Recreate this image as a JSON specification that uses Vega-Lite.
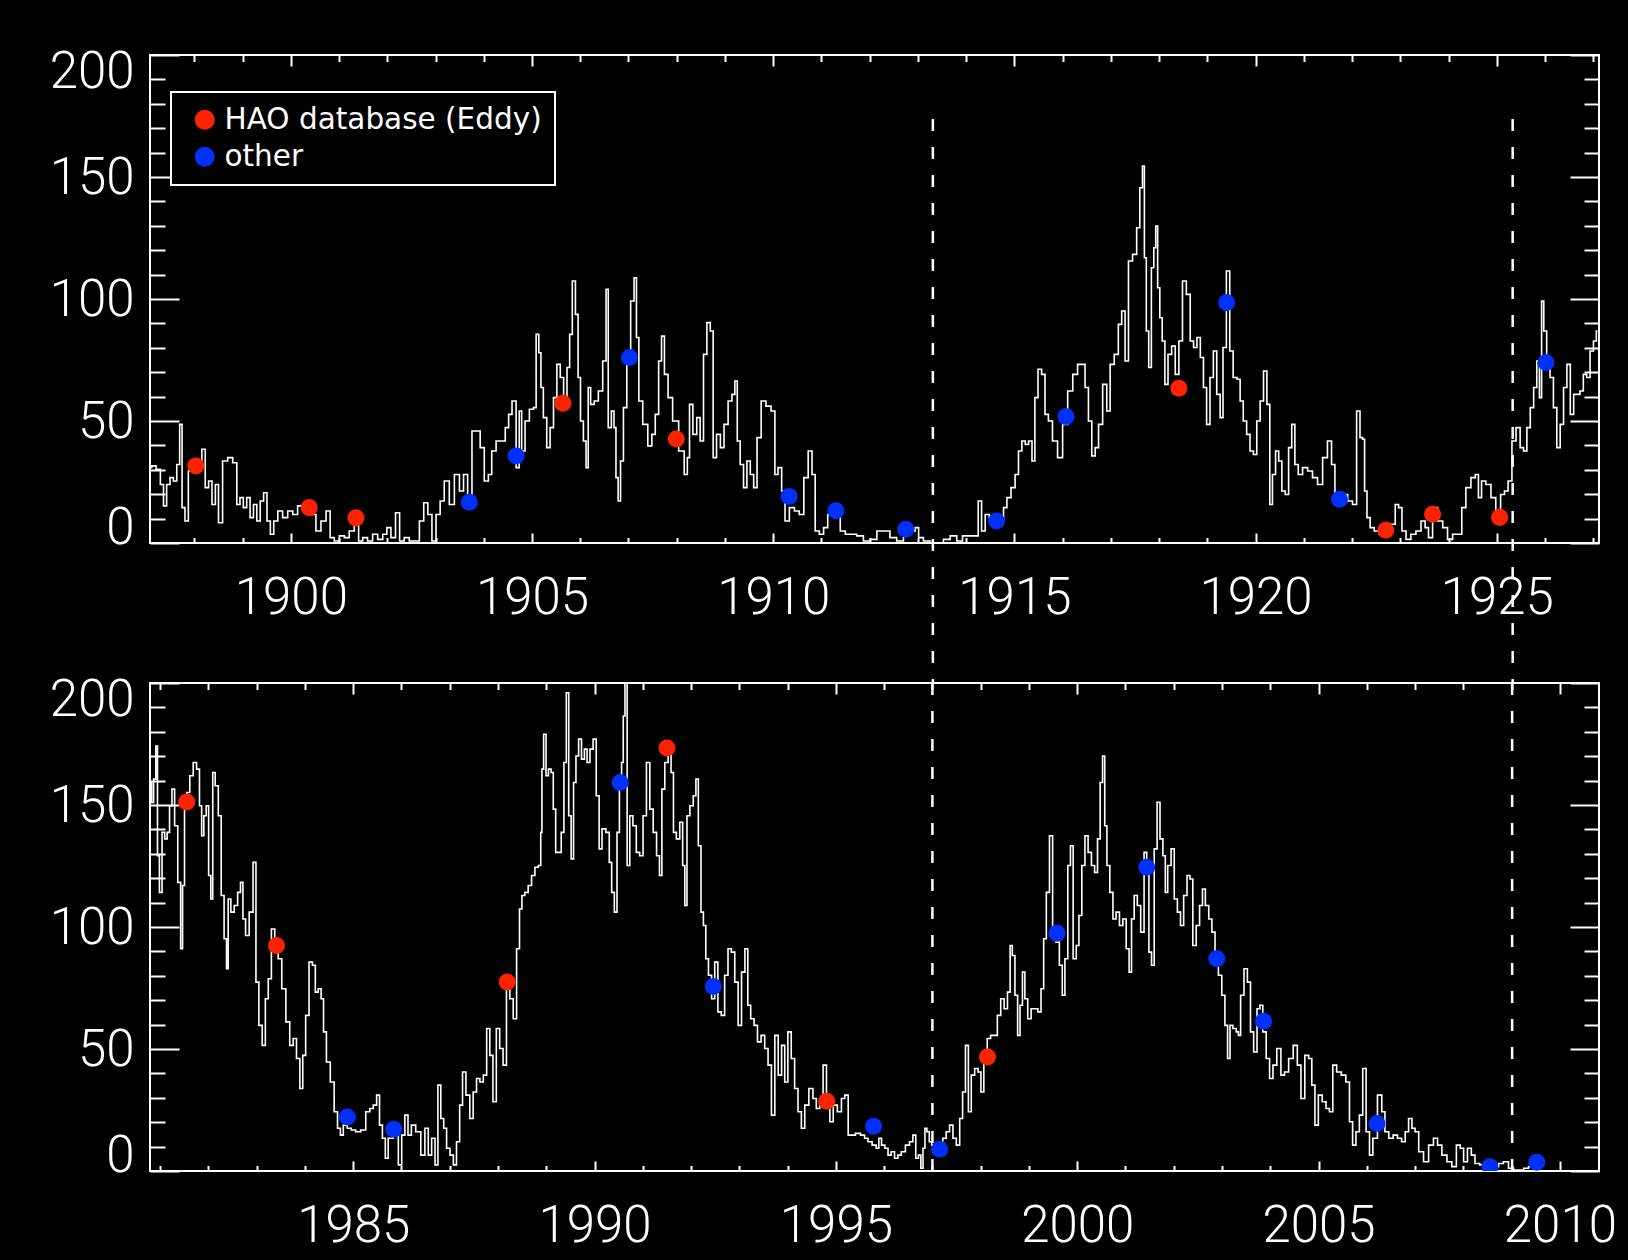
{
  "$schema": "https://vega.github.io/schema/vega-lite/v6.json",
  "background": "black",
  "padding": {"left": 48, "top": 45, "right": 34, "bottom": 12},
  "spacing": 140,
  "bounds": "flush",
  "datasets": {
    "ssnEarly": [
      {"year":1897.08,"ssn":31},{"year":1897.15,"ssn":31.6},{"year":1897.26,"ssn":30.2},{"year":1897.33,"ssn":24},{"year":1897.39,"ssn":15.2},{"year":1897.46,"ssn":24},{"year":1897.53,"ssn":26.8},{"year":1897.6,"ssn":25.4},{"year":1897.67,"ssn":32.2},{"year":1897.72,"ssn":48.6},{"year":1897.77,"ssn":14.5},{"year":1897.84,"ssn":9},{"year":1897.91,"ssn":29.5},{"year":1898.02,"ssn":31.6},{"year":1898.12,"ssn":33.6},{"year":1898.19,"ssn":38.4},{"year":1898.26,"ssn":22.7},{"year":1898.33,"ssn":25.4},{"year":1898.4,"ssn":15.8},{"year":1898.47,"ssn":24},{"year":1898.53,"ssn":8.3},{"year":1898.64,"ssn":33.6},{"year":1898.74,"ssn":35},{"year":1898.85,"ssn":32.9},{"year":1898.91,"ssn":15.8},{"year":1898.98,"ssn":18.6},{"year":1899.05,"ssn":14.5},{"year":1899.12,"ssn":18.6},{"year":1899.19,"ssn":10.4},{"year":1899.26,"ssn":15.8},{"year":1899.33,"ssn":9},{"year":1899.4,"ssn":17.2},{"year":1899.47,"ssn":20.6},{"year":1899.54,"ssn":9},{"year":1899.61,"ssn":3.6},{"year":1899.68,"ssn":9},{"year":1899.78,"ssn":13.1},{"year":1899.88,"ssn":10.4},{"year":1899.99,"ssn":13.1},{"year":1900.09,"ssn":11.7},{"year":1900.19,"ssn":15.2},{"year":1900.3,"ssn":15.8},{"year":1900.38,"ssn":14.5},{"year":1900.47,"ssn":11.7},{"year":1900.57,"ssn":4.9},{"year":1900.68,"ssn":9},{"year":1900.78,"ssn":13.1},{"year":1900.85,"ssn":2.2},{"year":1900.95,"ssn":0.8},{"year":1901.06,"ssn":2.9},{"year":1901.16,"ssn":2.2},{"year":1901.26,"ssn":4.9},{"year":1901.37,"ssn":7.7},{"year":1901.44,"ssn":0.8},{"year":1901.54,"ssn":2.2},{"year":1901.64,"ssn":0.8},{"year":1901.75,"ssn":3.6},{"year":1901.85,"ssn":1.5},{"year":1901.96,"ssn":3.6},{"year":1902.02,"ssn":6.3},{"year":1902.13,"ssn":2.2},{"year":1902.21,"ssn":12.4},{"year":1902.3,"ssn":0.8},{"year":1902.4,"ssn":2.2},{"year":1902.51,"ssn":0.8},{"year":1902.61,"ssn":0.8},{"year":1902.72,"ssn":9},{"year":1902.79,"ssn":16.5},{"year":1902.89,"ssn":11.7},{"year":1902.96,"ssn":0.8},{"year":1903.06,"ssn":11.7},{"year":1903.13,"ssn":17.2},{"year":1903.23,"ssn":25.4},{"year":1903.34,"ssn":15.8},{"year":1903.44,"ssn":28.1},{"year":1903.55,"ssn":21.3},{"year":1903.61,"ssn":28.1},{"year":1903.72,"ssn":14.5},{"year":1903.79,"ssn":45.9},{"year":1903.89,"ssn":45.9},{"year":1903.96,"ssn":39.1},{"year":1904.06,"ssn":25.4},{"year":1904.13,"ssn":28.1},{"year":1904.2,"ssn":37.7},{"year":1904.31,"ssn":41.8},
      {"year":1904.41,"ssn":41.8},{"year":1904.48,"ssn":47.3},{"year":1904.55,"ssn":52.7},{"year":1904.62,"ssn":58.2},{"year":1904.72,"ssn":30.9},{"year":1904.75,"ssn":54.1},{"year":1904.82,"ssn":37.7},{"year":1904.89,"ssn":50},{"year":1905,"ssn":54.8},{"year":1905.06,"ssn":55.5},{"year":1905.11,"ssn":85.5},{"year":1905.17,"ssn":78},{"year":1905.2,"ssn":63.7},{"year":1905.27,"ssn":51.4},{"year":1905.34,"ssn":39.1},{"year":1905.41,"ssn":47.3},{"year":1905.48,"ssn":59.6},{"year":1905.55,"ssn":73.2},{"year":1905.62,"ssn":67.8},{"year":1905.69,"ssn":56.8},{"year":1905.76,"ssn":71.9},{"year":1905.8,"ssn":85.5},{"year":1905.87,"ssn":107.4},{"year":1905.93,"ssn":93.7},{"year":1905.98,"ssn":67.8},{"year":1906.03,"ssn":50},{"year":1906.1,"ssn":41.8},{"year":1906.14,"ssn":30.9},{"year":1906.19,"ssn":63.7},{"year":1906.24,"ssn":56.8},{"year":1906.34,"ssn":58.2},{"year":1906.41,"ssn":62.3},{"year":1906.52,"ssn":74.6},{"year":1906.55,"ssn":104},{"year":1906.61,"ssn":47.3},{"year":1906.68,"ssn":54.1},{"year":1906.72,"ssn":47.3},{"year":1906.76,"ssn":26.8},{"year":1906.81,"ssn":17.2},{"year":1906.86,"ssn":33.6},{"year":1906.93,"ssn":55.5},{"year":1907,"ssn":74.6},{"year":1907.09,"ssn":99.2},{"year":1907.14,"ssn":108.7},{"year":1907.19,"ssn":84.2},{"year":1907.24,"ssn":58.2},{"year":1907.35,"ssn":48.6},{"year":1907.45,"ssn":39.8},{"year":1907.52,"ssn":44.5},{"year":1907.59,"ssn":52.7},{"year":1907.66,"ssn":74.6},{"year":1907.71,"ssn":84.8},{"year":1907.78,"ssn":69.1},{"year":1907.86,"ssn":59.6},{"year":1907.97,"ssn":50},{"year":1908.11,"ssn":37.7},{"year":1908.2,"ssn":28.1},{"year":1908.24,"ssn":35},{"year":1908.29,"ssn":56.8},{"year":1908.38,"ssn":44.5},{"year":1908.45,"ssn":51.4},{"year":1908.52,"ssn":41.8},{"year":1908.59,"ssn":77.3},{"year":1908.66,"ssn":90.3},{"year":1908.73,"ssn":86.9},{"year":1908.78,"ssn":35},{"year":1908.87,"ssn":44.5},{"year":1908.94,"ssn":39.1},{"year":1909.02,"ssn":48.6},{"year":1909.11,"ssn":58.2},{"year":1909.18,"ssn":60.9},{"year":1909.23,"ssn":66.4},{"year":1909.28,"ssn":41.8},{"year":1909.35,"ssn":32.2},{"year":1909.42,"ssn":22.7},{"year":1909.49,"ssn":33.6},{"year":1909.56,"ssn":28.1},{"year":1909.63,"ssn":22.7},{"year":1909.7,"ssn":43.2},{"year":1909.8,"ssn":58.2},{"year":1909.9,"ssn":56.1},{"year":1910.01,"ssn":54.1},{"year":1910.06,"ssn":28.1},{"year":1910.14,"ssn":30.9},{"year":1910.21,"ssn":21.3},{"year":1910.28,"ssn":9},{"year":1910.39,"ssn":14.5},{"year":1910.49,"ssn":13.1},{"year":1910.59,"ssn":11.7},{"year":1910.68,"ssn":26.8},{"year":1910.77,"ssn":37.7},{"year":1910.84,"ssn":28.1},{"year":1910.9,"ssn":4.9},{"year":1911.01,"ssn":3.6},{"year":1911.08,"ssn":6.3},{"year":1911.18,"ssn":11.7},{"year":1911.32,"ssn":11.7},{"year":1911.46,"ssn":4.9},{"year":1911.53,"ssn":3.6},{"year":1911.66,"ssn":3.6},{"year":1911.8,"ssn":2.9},
      {"year":1911.94,"ssn":0.8},{"year":1912.08,"ssn":1.5},{"year":1912.22,"ssn":4.9},{"year":1912.35,"ssn":4.9},{"year":1912.49,"ssn":2.2},{"year":1912.63,"ssn":0.8},{"year":1912.77,"ssn":4.9},{"year":1912.91,"ssn":4.9},{"year":1912.98,"ssn":6.3},{"year":1913.05,"ssn":2.2},{"year":1913.18,"ssn":0.8},{"year":1913.32,"ssn":0.1},{"year":1913.46,"ssn":0.1},{"year":1913.6,"ssn":1.5},{"year":1913.74,"ssn":2.9},{"year":1913.87,"ssn":0.8},{"year":1913.98,"ssn":2.9},{"year":1914.08,"ssn":2.9},{"year":1914.22,"ssn":2.9},{"year":1914.28,"ssn":17.2},{"year":1914.36,"ssn":4.9},{"year":1914.43,"ssn":11.7},{"year":1914.53,"ssn":10.4},{"year":1914.64,"ssn":11.7},{"year":1914.74,"ssn":9},{"year":1914.81,"ssn":14.5},{"year":1914.88,"ssn":18.6},{"year":1914.98,"ssn":22.7},{"year":1915.05,"ssn":28.1},{"year":1915.12,"ssn":37.7},{"year":1915.19,"ssn":41.8},{"year":1915.26,"ssn":40.4},{"year":1915.33,"ssn":41.8},{"year":1915.4,"ssn":33.6},{"year":1915.45,"ssn":59.6},{"year":1915.53,"ssn":71.2},{"year":1915.6,"ssn":69.1},{"year":1915.67,"ssn":52.7},{"year":1915.74,"ssn":50},{"year":1915.84,"ssn":41.8},{"year":1915.95,"ssn":35},{"year":1916.05,"ssn":48.6},{"year":1916.16,"ssn":62.3},{"year":1916.26,"ssn":69.1},{"year":1916.36,"ssn":73.2},{"year":1916.43,"ssn":73.2},{"year":1916.5,"ssn":63.7},{"year":1916.57,"ssn":50},{"year":1916.64,"ssn":35.7},{"year":1916.71,"ssn":39.1},{"year":1916.78,"ssn":48.6},{"year":1916.88,"ssn":65},{"year":1916.95,"ssn":54.1},{"year":1917.02,"ssn":73.2},{"year":1917.12,"ssn":77.3},{"year":1917.19,"ssn":89.6},{"year":1917.26,"ssn":95.1},{"year":1917.33,"ssn":74.6},{"year":1917.4,"ssn":115.6},{"year":1917.5,"ssn":118.3},{"year":1917.57,"ssn":129.2},{"year":1917.63,"ssn":145.6},{"year":1917.68,"ssn":154.5},{"year":1917.71,"ssn":116.9},{"year":1917.76,"ssn":86.9},{"year":1917.81,"ssn":71.9},{"year":1917.87,"ssn":112.8},{"year":1917.91,"ssn":121},{"year":1917.95,"ssn":129.9},{"year":1917.99,"ssn":104.6},{"year":1918.04,"ssn":92.3},{"year":1918.09,"ssn":82.8},{"year":1918.15,"ssn":65},{"year":1918.22,"ssn":77.3},{"year":1918.3,"ssn":80.7},{"year":1918.37,"ssn":69.1},{"year":1918.45,"ssn":82.8},{"year":1918.52,"ssn":107.4},{"year":1918.61,"ssn":101.9},{"year":1918.68,"ssn":82.8},{"year":1918.75,"ssn":80.1},{"year":1918.82,"ssn":84.2},{"year":1918.89,"ssn":76},{"year":1918.95,"ssn":63.7},{"year":1919.02,"ssn":48.6},{"year":1919.09,"ssn":67.8},{"year":1919.16,"ssn":78.7},{"year":1919.23,"ssn":60.9},{"year":1919.3,"ssn":51.4},{"year":1919.35,"ssn":80.1},{"year":1919.44,"ssn":111.5},{"year":1919.49,"ssn":78.7},{"year":1919.58,"ssn":67.8},{"year":1919.65,"ssn":67.1},
      {"year":1919.71,"ssn":58.2},{"year":1919.78,"ssn":50},{"year":1919.85,"ssn":44.5},{"year":1919.92,"ssn":37.7},{"year":1919.99,"ssn":36.3},{"year":1920.06,"ssn":50},{"year":1920.13,"ssn":58.2},{"year":1920.2,"ssn":70.5},{"year":1920.27,"ssn":56.8},{"year":1920.32,"ssn":15.8},{"year":1920.38,"ssn":28.1},{"year":1920.45,"ssn":37.7},{"year":1920.51,"ssn":33.6},{"year":1920.58,"ssn":21.3},{"year":1920.65,"ssn":19.9},{"year":1920.72,"ssn":39.1},{"year":1920.78,"ssn":48.6},{"year":1920.85,"ssn":32.2},{"year":1920.92,"ssn":28.1},{"year":1921.03,"ssn":30.9},{"year":1921.13,"ssn":29.5},{"year":1921.23,"ssn":26.8},{"year":1921.34,"ssn":24},{"year":1921.44,"ssn":35},{"year":1921.54,"ssn":41.8},{"year":1921.61,"ssn":32.2},{"year":1921.68,"ssn":18.6},{"year":1921.75,"ssn":18.6},{"year":1921.86,"ssn":19.9},{"year":1921.96,"ssn":17.2},{"year":1922.06,"ssn":15.8},{"year":1922.13,"ssn":54.1},{"year":1922.2,"ssn":43.2},{"year":1922.24,"ssn":42.5},{"year":1922.28,"ssn":21.3},{"year":1922.34,"ssn":10.4},{"year":1922.41,"ssn":6.3},{"year":1922.51,"ssn":4.9},{"year":1922.62,"ssn":3.6},{"year":1922.72,"ssn":6.3},{"year":1922.86,"ssn":7.7},{"year":1922.93,"ssn":15.8},{"year":1923,"ssn":14.5},{"year":1923.07,"ssn":4.9},{"year":1923.17,"ssn":1.5},{"year":1923.27,"ssn":3.6},{"year":1923.38,"ssn":4.9},{"year":1923.48,"ssn":9},{"year":1923.55,"ssn":6.3},{"year":1923.62,"ssn":2.2},{"year":1923.72,"ssn":14.5},{"year":1923.83,"ssn":9},{"year":1923.93,"ssn":6.3},{"year":1924.03,"ssn":1.5},{"year":1924.14,"ssn":3.6},{"year":1924.24,"ssn":3.6},{"year":1924.31,"ssn":14.5},{"year":1924.41,"ssn":22.7},{"year":1924.52,"ssn":26.8},{"year":1924.59,"ssn":28.1},{"year":1924.65,"ssn":18.6},{"year":1924.72,"ssn":25.4},{"year":1924.83,"ssn":24},{"year":1924.93,"ssn":18.6},{"year":1925.03,"ssn":9},{"year":1925.13,"ssn":19.9},{"year":1925.19,"ssn":21.3},{"year":1925.28,"ssn":25.4},{"year":1925.35,"ssn":41.8},{"year":1925.45,"ssn":47.3},{"year":1925.52,"ssn":39.1},{"year":1925.59,"ssn":37.7},{"year":1925.66,"ssn":47.3},{"year":1925.73,"ssn":55.5},{"year":1925.8,"ssn":63.7},{"year":1925.86,"ssn":74.6},{"year":1925.91,"ssn":59.6},{"year":1925.95,"ssn":99.2},{"year":1926,"ssn":86.9},{"year":1926.07,"ssn":74.6},{"year":1926.14,"ssn":67.8},{"year":1926.21,"ssn":55.5},{"year":1926.28,"ssn":39.1},{"year":1926.35,"ssn":48.6},{"year":1926.42,"ssn":63.7},{"year":1926.49,"ssn":73.2},{"year":1926.56,"ssn":52.7},{"year":1926.63,"ssn":60.9},{"year":1926.69,"ssn":60.9},{"year":1926.76,"ssn":62.3},{"year":1926.83,"ssn":69.1},{"year":1926.9,"ssn":67.8},{"year":1926.97,"ssn":78.7},{"year":1927.04,"ssn":82.8},{"year":1927.09,"ssn":86.9}
    ],
    "ssnRecent": [
      {"year":1980.81,"ssn":159.2},{"year":1980.84,"ssn":151},{"year":1980.89,"ssn":160.6},{"year":1980.93,"ssn":174.2},{"year":1980.96,"ssn":129.2},{"year":1981.01,"ssn":114.2},{"year":1981.07,"ssn":138.8},{"year":1981.12,"ssn":136.1},{"year":1981.17,"ssn":138.8},{"year":1981.22,"ssn":149.7},{"year":1981.27,"ssn":156.5},{"year":1981.33,"ssn":141.5},{"year":1981.4,"ssn":118.3},{"year":1981.45,"ssn":91.1},{"year":1981.48,"ssn":117},{"year":1981.53,"ssn":149.7},{"year":1981.58,"ssn":155.1},{"year":1981.65,"ssn":162},{"year":1981.72,"ssn":167.4},{"year":1981.79,"ssn":164.7},{"year":1981.84,"ssn":149.7},{"year":1981.88,"ssn":137.4},{"year":1981.93,"ssn":145.6},{"year":1981.98,"ssn":149.7},{"year":1982.03,"ssn":121.1},{"year":1982.07,"ssn":111.5},{"year":1982.11,"ssn":163.3},{"year":1982.17,"ssn":157.9},{"year":1982.24,"ssn":145.6},{"year":1982.29,"ssn":112.9},{"year":1982.36,"ssn":95.2},{"year":1982.39,"ssn":82.9},{"year":1982.43,"ssn":111.5},{"year":1982.5,"ssn":106.1},{"year":1982.57,"ssn":108.8},{"year":1982.64,"ssn":114.2},{"year":1982.69,"ssn":118.3},{"year":1982.74,"ssn":103.3},{"year":1982.8,"ssn":96.5},{"year":1982.89,"ssn":106.1},{"year":1982.96,"ssn":126.5},{"year":1983.01,"ssn":77.4},{"year":1983.08,"ssn":59.7},{"year":1983.15,"ssn":51.5},{"year":1983.21,"ssn":70.6},{"year":1983.27,"ssn":78.8},{"year":1983.34,"ssn":99.2},{"year":1983.41,"ssn":92.4},{"year":1983.48,"ssn":87},{"year":1983.56,"ssn":74.7},{"year":1983.65,"ssn":61.1},{"year":1983.72,"ssn":51.5},{"year":1983.79,"ssn":54.3},{"year":1983.86,"ssn":46.1},{"year":1983.93,"ssn":33.8},{"year":1983.98,"ssn":47.4},{"year":1984.05,"ssn":63.8},{"year":1984.12,"ssn":85.6},{"year":1984.19,"ssn":84.3},{"year":1984.24,"ssn":73.3},{"year":1984.31,"ssn":74.7},{"year":1984.36,"ssn":70.6},{"year":1984.41,"ssn":57},{"year":1984.48,"ssn":44.7},{"year":1984.57,"ssn":36.5},{"year":1984.64,"ssn":24.3},{"year":1984.71,"ssn":17.5},{"year":1984.76,"ssn":14.7},{"year":1984.83,"ssn":18.8},{"year":1984.92,"ssn":17.5},{"year":1985,"ssn":16.8},{"year":1985.1,"ssn":16.1},{"year":1985.21,"ssn":16.8},{"year":1985.31,"ssn":24.3},{"year":1985.38,"ssn":25.6},{"year":1985.45,"ssn":27},{"year":1985.52,"ssn":31.1},{"year":1985.57,"ssn":18.8},{"year":1985.64,"ssn":13.4},{"year":1985.69,"ssn":5.2},{"year":1985.76,"ssn":13.4},{"year":1985.9,"ssn":14.7},{"year":1985.97,"ssn":2.5},{"year":1986.04,"ssn":14.7},{"year":1986.1,"ssn":22.9},{"year":1986.17,"ssn":14.7},{"year":1986.24,"ssn":18.8},{"year":1986.35,"ssn":16.1},{"year":1986.45,"ssn":6.5},{"year":1986.52,"ssn":17.5},{"year":1986.59,"ssn":6.5},{"year":1986.66,"ssn":13.4},{"year":1986.73,"ssn":2.5},{"year":1986.78,"ssn":35.2},{"year":1986.85,"ssn":21.5},{"year":1986.9,"ssn":17.5},{"year":1986.97,"ssn":9.3},{"year":1987.04,"ssn":6.5},{"year":1987.11,"ssn":2.5},{"year":1987.17,"ssn":12},{"year":1987.24,"ssn":27},{"year":1987.29,"ssn":40.6},{"year":1987.38,"ssn":31.1},{"year":1987.45,"ssn":21.5},{"year":1987.52,"ssn":32.4},{"year":1987.59,"ssn":37.9},{"year":1987.66,"ssn":36.5},{"year":1987.73,"ssn":39.3},{"year":1987.8,"ssn":58.4},{"year":1987.86,"ssn":47.4},{"year":1987.93,"ssn":28.4},{"year":1988,"ssn":58.4},{"year":1988.07,"ssn":50.2},{"year":1988.14,"ssn":43.4},{"year":1988.21,"ssn":76.1},{"year":1988.28,"ssn":70.6},{"year":1988.35,"ssn":62.4},{"year":1988.42,"ssn":91.1},
      {"year":1988.47,"ssn":107.4},{"year":1988.52,"ssn":112.9},{"year":1988.59,"ssn":114.2},{"year":1988.66,"ssn":117},{"year":1988.73,"ssn":121.1},{"year":1988.8,"ssn":124.5},{"year":1988.87,"ssn":125.2},{"year":1988.9,"ssn":138.8},{"year":1988.92,"ssn":164.7},{"year":1988.97,"ssn":179},{"year":1989.02,"ssn":162},{"year":1989.07,"ssn":164.7},{"year":1989.13,"ssn":163.3},{"year":1989.16,"ssn":148.3},{"year":1989.23,"ssn":130.6},{"year":1989.28,"ssn":130.6},{"year":1989.34,"ssn":138.8},{"year":1989.39,"ssn":167.4},{"year":1989.44,"ssn":196},{"year":1989.49,"ssn":145.6},{"year":1989.54,"ssn":127.9},{"year":1989.59,"ssn":159.2},{"year":1989.64,"ssn":170.1},{"year":1989.7,"ssn":177},{"year":1989.76,"ssn":168.8},{"year":1989.82,"ssn":172.9},{"year":1989.87,"ssn":167.4},{"year":1989.94,"ssn":172.9},{"year":1990,"ssn":177},{"year":1990.07,"ssn":153.8},{"year":1990.12,"ssn":132},{"year":1990.19,"ssn":140.2},{"year":1990.28,"ssn":138.8},{"year":1990.33,"ssn":126.5},{"year":1990.38,"ssn":114.2},{"year":1990.44,"ssn":106.1},{"year":1990.49,"ssn":138.8},{"year":1990.54,"ssn":159.2},{"year":1990.58,"ssn":167.4},{"year":1990.61,"ssn":186.5},{"year":1990.65,"ssn":201.5},{"year":1990.7,"ssn":125.2},{"year":1990.76,"ssn":145.6},{"year":1990.83,"ssn":141.5},{"year":1990.9,"ssn":130.6},{"year":1990.97,"ssn":129.2},{"year":1991.04,"ssn":145.6},{"year":1991.11,"ssn":167.4},{"year":1991.18,"ssn":148.3},{"year":1991.25,"ssn":138.8},{"year":1991.32,"ssn":129.2},{"year":1991.37,"ssn":121.1},{"year":1991.42,"ssn":156.5},{"year":1991.49,"ssn":167.4},{"year":1991.56,"ssn":172.9},{"year":1991.61,"ssn":163.3},{"year":1991.66,"ssn":138.8},{"year":1991.73,"ssn":136.1},{"year":1991.8,"ssn":142.9},{"year":1991.85,"ssn":125.2},{"year":1991.89,"ssn":108.8},{"year":1991.94,"ssn":145.6},{"year":1992.01,"ssn":149.7},{"year":1992.08,"ssn":153.8},{"year":1992.12,"ssn":160.6},{"year":1992.18,"ssn":133.3},{"year":1992.23,"ssn":106.1},{"year":1992.28,"ssn":100.6},{"year":1992.33,"ssn":87},{"year":1992.39,"ssn":80.2},{"year":1992.46,"ssn":70.6},{"year":1992.52,"ssn":85.6},{"year":1992.59,"ssn":65.2},{"year":1992.66,"ssn":63.8},{"year":1992.73,"ssn":80.2},{"year":1992.8,"ssn":91.1},{"year":1992.87,"ssn":89.7},{"year":1992.94,"ssn":77.4},{"year":1993.01,"ssn":59.7},{"year":1993.08,"ssn":81.5},{"year":1993.15,"ssn":91.1},{"year":1993.2,"ssn":67.9},{"year":1993.27,"ssn":62.4},{"year":1993.34,"ssn":59.7},{"year":1993.41,"ssn":52.9},{"year":1993.49,"ssn":55.6},{"year":1993.56,"ssn":50.2},{"year":1993.63,"ssn":43.4},{"year":1993.7,"ssn":22.9},{"year":1993.77,"ssn":55.6},{"year":1993.84,"ssn":39.3},{"year":1993.91,"ssn":51.5},{"year":1993.97,"ssn":36.5},{"year":1994.04,"ssn":57},{"year":1994.11,"ssn":46.1},{"year":1994.18,"ssn":33.8},{"year":1994.25,"ssn":24.3},{"year":1994.32,"ssn":17.5},{"year":1994.39,"ssn":27},{"year":1994.49,"ssn":33.8},{"year":1994.56,"ssn":29.7},{"year":1994.63,"ssn":25.6},{"year":1994.7,"ssn":29.7},{"year":1994.77,"ssn":43.4},{"year":1994.84,"ssn":27},{"year":1994.91,"ssn":20.2},{"year":1994.98,"ssn":27},{"year":1995.08,"ssn":24.3},{"year":1995.15,"ssn":29.7},{"year":1995.22,"ssn":31.1},{"year":1995.29,"ssn":14.7},{"year":1995.35,"ssn":14.7},{"year":1995.46,"ssn":15.4},{"year":1995.56,"ssn":14.7},{"year":1995.63,"ssn":13.4},{"year":1995.7,"ssn":12},{"year":1995.8,"ssn":10.6},{"year":1995.87,"ssn":9.3},
      {"year":1995.91,"ssn":13.4},{"year":1995.98,"ssn":10.6},{"year":1996.05,"ssn":9.3},{"year":1996.11,"ssn":6.5},{"year":1996.18,"ssn":7.9},{"year":1996.25,"ssn":5.2},{"year":1996.32,"ssn":6.5},{"year":1996.39,"ssn":7.9},{"year":1996.49,"ssn":10.6},{"year":1996.56,"ssn":12},{"year":1996.63,"ssn":14.7},{"year":1996.68,"ssn":5.2},{"year":1996.74,"ssn":6.5},{"year":1996.78,"ssn":1.1},{"year":1996.83,"ssn":9.3},{"year":1996.86,"ssn":17.5},{"year":1996.91,"ssn":16.1},{"year":1996.96,"ssn":12},{"year":1997.01,"ssn":10.6},{"year":1997.08,"ssn":6.5},{"year":1997.18,"ssn":10.6},{"year":1997.25,"ssn":13.4},{"year":1997.32,"ssn":16.1},{"year":1997.39,"ssn":18.8},{"year":1997.46,"ssn":13.4},{"year":1997.53,"ssn":10.6},{"year":1997.6,"ssn":21.5},{"year":1997.65,"ssn":32.4},{"year":1997.72,"ssn":51.5},{"year":1997.77,"ssn":24.3},{"year":1997.84,"ssn":39.3},{"year":1997.91,"ssn":42},{"year":1997.98,"ssn":40.6},{"year":1998.03,"ssn":32.4},{"year":1998.1,"ssn":44.7},{"year":1998.17,"ssn":54.3},{"year":1998.24,"ssn":55.6},{"year":1998.31,"ssn":55.6},{"year":1998.38,"ssn":63.8},{"year":1998.45,"ssn":70.6},{"year":1998.52,"ssn":66.5},{"year":1998.59,"ssn":73.3},{"year":1998.63,"ssn":92.4},{"year":1998.68,"ssn":88.3},{"year":1998.74,"ssn":72},{"year":1998.79,"ssn":55.6},{"year":1998.84,"ssn":67.9},{"year":1998.89,"ssn":81.5},{"year":1998.94,"ssn":70.6},{"year":1999.01,"ssn":62.4},{"year":1999.08,"ssn":66.5},{"year":1999.15,"ssn":66.5},{"year":1999.22,"ssn":65.2},{"year":1999.28,"ssn":74.7},{"year":1999.33,"ssn":95.2},{"year":1999.39,"ssn":114.2},{"year":1999.46,"ssn":137.4},{"year":1999.52,"ssn":96.5},{"year":1999.6,"ssn":93.8},{"year":1999.66,"ssn":84.3},{"year":1999.72,"ssn":72},{"year":1999.77,"ssn":87},{"year":1999.84,"ssn":125.2},{"year":1999.88,"ssn":133.3},{"year":1999.95,"ssn":87},{"year":2000.01,"ssn":92.4},{"year":2000.06,"ssn":104.7},{"year":2000.13,"ssn":125.2},{"year":2000.19,"ssn":137.4},{"year":2000.26,"ssn":130.6},{"year":2000.33,"ssn":125.2},{"year":2000.39,"ssn":122.4},{"year":2000.45,"ssn":136.1},{"year":2000.5,"ssn":159.2},{"year":2000.55,"ssn":170.1},{"year":2000.59,"ssn":141.5},{"year":2000.64,"ssn":125.2},{"year":2000.71,"ssn":114.2},{"year":2000.77,"ssn":103.3},{"year":2000.84,"ssn":106.1},{"year":2000.91,"ssn":100.6},{"year":2000.98,"ssn":103.3},{"year":2001.05,"ssn":91.1},{"year":2001.1,"ssn":81.5},{"year":2001.15,"ssn":103.3},{"year":2001.21,"ssn":112.9},{"year":2001.28,"ssn":108.8},{"year":2001.35,"ssn":97.9},{"year":2001.42,"ssn":130.6},{"year":2001.46,"ssn":122.4},{"year":2001.51,"ssn":89.7},{"year":2001.57,"ssn":84.3},{"year":2001.62,"ssn":132},{"year":2001.69,"ssn":151.1},{"year":2001.74,"ssn":136.1},{"year":2001.81,"ssn":129.2},{"year":2001.84,"ssn":114.2},{"year":2001.91,"ssn":125.2},{"year":2001.98,"ssn":132},{"year":2002.04,"ssn":111.5},{"year":2002.11,"ssn":106.1},{"year":2002.17,"ssn":100.6},{"year":2002.24,"ssn":112.9},{"year":2002.31,"ssn":121.1},{"year":2002.36,"ssn":119.7},{"year":2002.43,"ssn":92.4},{"year":2002.5,"ssn":100.6},{"year":2002.57,"ssn":108.8},{"year":2002.62,"ssn":115.6},{"year":2002.69,"ssn":108.8},{"year":2002.76,"ssn":103.3},{"year":2002.82,"ssn":97.9},{"year":2002.89,"ssn":87},{"year":2002.96,"ssn":80.2},{"year":2003.03,"ssn":72},{"year":2003.09,"ssn":59.7},{"year":2003.14,"ssn":46.1},{"year":2003.19,"ssn":59.7},{"year":2003.26,"ssn":58.4},{"year":2003.33,"ssn":57},
      {"year":2003.35,"ssn":55.6},{"year":2003.42,"ssn":72},{"year":2003.49,"ssn":82.9},{"year":2003.56,"ssn":77.4},{"year":2003.62,"ssn":57},{"year":2003.69,"ssn":48.8},{"year":2003.76,"ssn":66.5},{"year":2003.81,"ssn":67.9},{"year":2003.88,"ssn":57},{"year":2003.95,"ssn":46.1},{"year":2004.02,"ssn":37.9},{"year":2004.09,"ssn":43.4},{"year":2004.18,"ssn":50.2},{"year":2004.26,"ssn":39.3},{"year":2004.33,"ssn":40.6},{"year":2004.43,"ssn":46.1},{"year":2004.52,"ssn":51.5},{"year":2004.6,"ssn":43.4},{"year":2004.67,"ssn":29.7},{"year":2004.76,"ssn":47.4},{"year":2004.83,"ssn":46.1},{"year":2004.89,"ssn":35.2},{"year":2004.96,"ssn":18.8},{"year":2005.03,"ssn":31.1},{"year":2005.12,"ssn":28.4},{"year":2005.19,"ssn":25.6},{"year":2005.26,"ssn":24.3},{"year":2005.33,"ssn":43.4},{"year":2005.42,"ssn":40.6},{"year":2005.52,"ssn":39.3},{"year":2005.61,"ssn":36.5},{"year":2005.67,"ssn":20.2},{"year":2005.74,"ssn":10.6},{"year":2005.81,"ssn":16.1},{"year":2005.88,"ssn":22.9},{"year":2005.95,"ssn":42},{"year":2006.02,"ssn":16.1},{"year":2006.09,"ssn":6.5},{"year":2006.16,"ssn":13.4},{"year":2006.28,"ssn":31.1},{"year":2006.34,"ssn":24.3},{"year":2006.41,"ssn":16.1},{"year":2006.5,"ssn":13.4},{"year":2006.59,"ssn":14.7},{"year":2006.68,"ssn":13.4},{"year":2006.76,"ssn":12},{"year":2006.83,"ssn":16.1},{"year":2006.9,"ssn":21.5},{"year":2006.97,"ssn":17.5},{"year":2007.03,"ssn":16.1},{"year":2007.12,"ssn":7.9},{"year":2007.23,"ssn":3.8},{"year":2007.33,"ssn":10.6},{"year":2007.43,"ssn":13.4},{"year":2007.5,"ssn":10.6},{"year":2007.61,"ssn":6.5},{"year":2007.71,"ssn":3.8},{"year":2007.81,"ssn":1.8},{"year":2007.9,"ssn":10.6},{"year":2007.97,"ssn":9.3},{"year":2008.04,"ssn":3.8},{"year":2008.13,"ssn":9.3},{"year":2008.2,"ssn":6.5},{"year":2008.28,"ssn":3.1},{"year":2008.4,"ssn":2.5},{"year":2008.55,"ssn":1.1},{"year":2008.68,"ssn":1.8},{"year":2008.78,"ssn":3.1},{"year":2008.88,"ssn":3.8},{"year":2008.99,"ssn":1.1},{"year":2009.09,"ssn":0.4},{"year":2009.2,"ssn":0.4},{"year":2009.3,"ssn":1.1},{"year":2009.4,"ssn":1.8}
    ],
    "obsEarly": [
      {"year":1898.03,"ssn":31.6,"source":"HAO database (Eddy)"},{"year":1900.38,"ssn":14.5,"source":"HAO database (Eddy)"},{"year":1901.35,"ssn":10.3,"source":"HAO database (Eddy)"},{"year":1905.64,"ssn":57.3,"source":"HAO database (Eddy)"},{"year":1907.99,"ssn":42.6,"source":"HAO database (Eddy)"},{"year":1918.41,"ssn":63.4,"source":"HAO database (Eddy)"},{"year":1922.7,"ssn":5.2,"source":"HAO database (Eddy)"},{"year":1923.67,"ssn":11.8,"source":"HAO database (Eddy)"},{"year":1925.06,"ssn":10.5,"source":"HAO database (Eddy)"},
      {"year":1903.7,"ssn":16.7,"source":"other"},{"year":1904.67,"ssn":35.7,"source":"other"},{"year":1907.02,"ssn":76,"source":"other"},{"year":1910.33,"ssn":19.1,"source":"other"},{"year":1911.3,"ssn":13.2,"source":"other"},{"year":1912.75,"ssn":5.6,"source":"other"},{"year":1914.63,"ssn":9,"source":"other"},{"year":1916.07,"ssn":51.8,"source":"other"},{"year":1919.4,"ssn":98.6,"source":"other"},{"year":1921.74,"ssn":17.9,"source":"other"},{"year":1926.02,"ssn":74,"source":"other"}
    ],
    "obsRecent": [
      {"year":1981.55,"ssn":151.2,"source":"HAO database (Eddy)"},{"year":1983.41,"ssn":92.4,"source":"HAO database (Eddy)"},{"year":1988.19,"ssn":77.5,"source":"HAO database (Eddy)"},{"year":1991.5,"ssn":173.4,"source":"HAO database (Eddy)"},{"year":1994.81,"ssn":28.6,"source":"HAO database (Eddy)"},{"year":1998.14,"ssn":46.7,"source":"HAO database (Eddy)"},
      {"year":1984.88,"ssn":22.1,"source":"other"},{"year":1985.84,"ssn":17.1,"source":"other"},{"year":1990.53,"ssn":159.2,"source":"other"},{"year":1992.46,"ssn":75.6,"source":"other"},{"year":1995.78,"ssn":18.3,"source":"other"},{"year":1997.15,"ssn":8.9,"source":"other"},{"year":1999.58,"ssn":97.4,"source":"other"},{"year":2001.44,"ssn":124.5,"source":"other"},{"year":2002.89,"ssn":87,"source":"other"},{"year":2003.86,"ssn":61.4,"source":"other"},{"year":2006.21,"ssn":19.5,"source":"other"},{"year":2008.55,"ssn":1.7,"source":"other"},{"year":2009.52,"ssn":3.6,"source":"other"}
    ]
  },
  "vconcat": [
    {
      "width": 1449,
      "height": 488,
      "resolve": {"axis": {"x": "independent", "y": "independent"}},
      "layer": [
        {
          "data": {"name": "ssnEarly"},
          "mark": {"type": "line", "color": "white", "strokeWidth": 1.6, "interpolate": "step", "clip": true},
          "encoding": {
            "x": {"field": "year", "type": "quantitative",
                  "scale": {"domain": [1897.08, 1927.12], "nice": false, "zero": false},
                  "axis": {"orient": "bottom", "title": null, "values": [1900, 1905, 1910, 1915, 1920, 1925], "format": "d", "ticks": false, "tickSize": 0, "labelPadding": 30, "labelFontSize": 51, "labelFlush": false, "labelOverlap": false}},
            "y": {"field": "ssn", "type": "quantitative",
                  "scale": {"domain": [0, 200], "nice": false},
                  "axis": {"orient": "left", "title": null, "values": [0, 50, 100, 150, 200], "ticks": false, "tickSize": 0, "labelPadding": 16, "labelFontSize": 51, "labelFlush": false, "labelOverlap": false,
                           "labelBaseline": {"condition": [{"test": "datum.value >= 200", "value": "top"}, {"test": "datum.value <= 0", "value": "alphabetic"}], "value": "middle"},
                           "labelOffset": {"condition": [{"test": "datum.value >= 200", "value": -8}, {"test": "datum.value <= 0", "value": 0}], "value": 1}}}
          }
        },
        {
          "data": {"name": "obsEarly"},
          "mark": {"type": "circle", "size": 290, "opacity": 1, "clip": true},
          "encoding": {
            "x": {"field": "year", "type": "quantitative",
                  "scale": {"domain": [1897.08, 1927.12], "nice": false, "zero": false},
                  "axis": {"orient": "bottom", "title": null, "labels": false, "values": [1898,1899,1900,1901,1902,1903,1904,1905,1906,1907,1908,1909,1910,1911,1912,1913,1914,1915,1916,1917,1918,1919,1920,1921,1922,1923,1924,1925,1926,1927],
                           "tickSize": {"condition": {"test": "datum.value % 5 === 0", "value": -10}, "value": -5.5}}},
            "y": {"field": "ssn", "type": "quantitative",
                  "scale": {"domain": [0, 200], "nice": false},
                  "axis": {"orient": "left", "title": null, "labels": false, "values": [0,10,20,30,40,50,60,70,80,90,100,110,120,130,140,150,160,170,180,190,200],
                           "tickSize": {"condition": {"test": "datum.value % 50 === 0", "value": -29}, "value": -15}}},
            "color": {"field": "source", "type": "nominal",
                      "scale": {"domain": ["HAO database (Eddy)", "other"], "range": ["#ff2200", "#0030ff"]},
                      "legend": {"orient": "none", "legendX": 21, "legendY": 37, "title": null, "symbolSize": 400, "symbolOffset": 6, "labelOffset": 5}}
          }
        },
        {
          "data": {"values": [{"year": 1913.31}, {"year": 1925.33}]},
          "mark": {"type": "rule", "color": "white", "strokeWidth": 2.5, "strokeDash": [12, 16]},
          "encoding": {
            "x": {"field": "year", "type": "quantitative",
                  "scale": {"domain": [1897.08, 1927.12], "nice": false, "zero": false},
                  "axis": {"orient": "top", "title": null, "labels": false, "values": [1898,1899,1900,1901,1902,1903,1904,1905,1906,1907,1908,1909,1910,1911,1912,1913,1914,1915,1916,1917,1918,1919,1920,1921,1922,1923,1924,1925,1926,1927],
                           "tickSize": {"condition": {"test": "datum.value % 5 === 0", "value": -11}, "value": -6.5}}},
            "y": {"datum": 173.8, "type": "quantitative",
                  "scale": {"domain": [0, 200], "nice": false},
                  "axis": {"orient": "right", "title": null, "labels": false, "values": [0,10,20,30,40,50,60,70,80,90,100,110,120,130,140,150,160,170,180,190,200],
                           "tickSize": {"condition": {"test": "datum.value % 50 === 0", "value": -29}, "value": -15}}},
            "y2": {"datum": -57.4}
          }
        }
      ]
    },
    {
      "width": 1449,
      "height": 488,
      "resolve": {"axis": {"x": "independent", "y": "independent"}},
      "layer": [
        {
          "data": {"name": "ssnRecent"},
          "mark": {"type": "line", "color": "white", "strokeWidth": 1.6, "interpolate": "step", "clip": true},
          "encoding": {
            "x": {"field": "year", "type": "quantitative",
                  "scale": {"domain": [1980.79, 2010.81], "nice": false, "zero": false},
                  "axis": {"orient": "bottom", "title": null, "values": [1985, 1990, 1995, 2000, 2005, 2010], "format": "d", "ticks": false, "tickSize": 0, "labelPadding": 30, "labelFontSize": 51, "labelFlush": false, "labelOverlap": false}},
            "y": {"field": "ssn", "type": "quantitative",
                  "scale": {"domain": [0, 200], "nice": false},
                  "axis": {"orient": "left", "title": null, "values": [0, 50, 100, 150, 200], "ticks": false, "tickSize": 0, "labelPadding": 16, "labelFontSize": 51, "labelFlush": false, "labelOverlap": false,
                           "labelBaseline": {"condition": [{"test": "datum.value >= 200", "value": "top"}, {"test": "datum.value <= 0", "value": "alphabetic"}], "value": "middle"},
                           "labelOffset": {"condition": [{"test": "datum.value >= 200", "value": -8}, {"test": "datum.value <= 0", "value": 0}], "value": 1}}}
          }
        },
        {
          "data": {"name": "obsRecent"},
          "mark": {"type": "circle", "size": 290, "opacity": 1, "clip": true},
          "encoding": {
            "x": {"field": "year", "type": "quantitative",
                  "scale": {"domain": [1980.79, 2010.81], "nice": false, "zero": false},
                  "axis": {"orient": "bottom", "title": null, "labels": false, "values": [1981,1982,1983,1984,1985,1986,1987,1988,1989,1990,1991,1992,1993,1994,1995,1996,1997,1998,1999,2000,2001,2002,2003,2004,2005,2006,2007,2008,2009,2010],
                           "tickSize": {"condition": {"test": "datum.value % 5 === 0", "value": -10}, "value": -5.5}}},
            "y": {"field": "ssn", "type": "quantitative",
                  "scale": {"domain": [0, 200], "nice": false},
                  "axis": {"orient": "left", "title": null, "labels": false, "values": [0,10,20,30,40,50,60,70,80,90,100,110,120,130,140,150,160,170,180,190,200],
                           "tickSize": {"condition": {"test": "datum.value % 50 === 0", "value": -29}, "value": -15}}},
            "color": {"field": "source", "type": "nominal",
                      "scale": {"domain": ["HAO database (Eddy)", "other"], "range": ["#ff2200", "#0030ff"]},
                      "legend": null}
          }
        },
        {
          "data": {"values": [{"year": 1997.0}, {"year": 2009.01}]},
          "mark": {"type": "rule", "color": "white", "strokeWidth": 2.5, "strokeDash": [12, 16]},
          "encoding": {
            "x": {"field": "year", "type": "quantitative",
                  "scale": {"domain": [1980.79, 2010.81], "nice": false, "zero": false},
                  "axis": {"orient": "top", "title": null, "labels": false, "values": [1981,1982,1983,1984,1985,1986,1987,1988,1989,1990,1991,1992,1993,1994,1995,1996,1997,1998,1999,2000,2001,2002,2003,2004,2005,2006,2007,2008,2009,2010],
                           "tickSize": {"condition": {"test": "datum.value % 5 === 0", "value": -11}, "value": -6.5}}},
            "y": {"datum": 200, "type": "quantitative",
                  "scale": {"domain": [0, 200], "nice": false},
                  "axis": {"orient": "right", "title": null, "labels": false, "values": [0,10,20,30,40,50,60,70,80,90,100,110,120,130,140,150,160,170,180,190,200],
                           "tickSize": {"condition": {"test": "datum.value % 50 === 0", "value": -29}, "value": -15}}},
            "y2": {"datum": 0}
          }
        }
      ]
    }
  ],
  "resolve": {"scale": {"x": "independent", "y": "independent"}, "legend": {"color": "independent"}},
  "config": {
    "view": {"stroke": "white", "strokeWidth": 2},
    "axis": {"grid": false, "domain": false, "labelColor": "white", "tickColor": "white", "tickWidth": 2, "labelFont": "Roboto", "labelFontWeight": 300},
    "legend": {"strokeColor": "white", "strokeWidth": 2, "fillColor": "black", "padding": 13, "symbolType": "circle", "symbolStrokeWidth": 0, "symbolOpacity": 1, "labelFont": "DejaVu Sans", "labelFontSize": 29.5, "labelColor": "white", "rowPadding": 6, "labelLimit": 600}
  }
}
